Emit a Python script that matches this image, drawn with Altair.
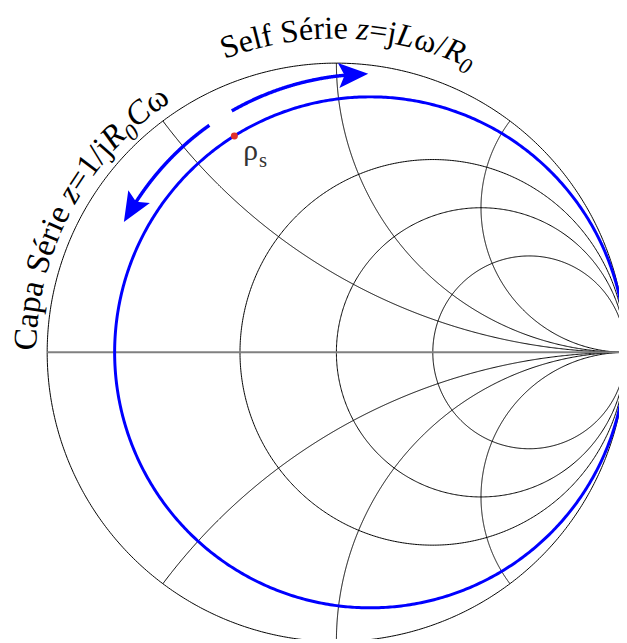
import numpy as np
import pandas as pd
import altair as alt

# ---------------- values ----------------
resistance_circles = [0.5, 1.0, 2.0]                 # constant-r circles
reactance_arcs = [0.5, 1.0, 2.0, -0.5, -1.0, -2.0]   # constant-x arcs
blue_r = 0.132                                       # highlighted constant-r circle
rho_s_angle = 122.1                                  # deg on the blue circle
arrow_radius = 0.962                                 # around the blue circle's centre
arrow_top_deg = [119.8, 91.0]                        # start, tip
arrow_left_deg = [125.3, 151.5]                      # start, tip
top_text = [("Self Série ", "n"), ("z", "i"), ("=j", "n"), ("L", "i"),
            ("ω/", "n"), ("R", "i"), ("0", "s")]
left_text = [("Capa Série ", "n"), ("z", "i"), ("=1/j", "n"), ("R", "i"),
             ("0", "s"), ("C", "i"), ("ω", "n")]
top_text_center_deg = 87.8
left_text_center_deg = 151.5
top_text_radius = 1.085
left_text_radius = 1.038
top_font = 32.5
left_font = 33.5

# ---------------- layout ----------------
W, H = 619, 635
PX = 293.0                  # pixels per unit of Gamma
CX, CY = 332.7, 344.7       # centre of the chart in plot pixels
xdom = [-CX / PX, (W - CX) / PX]
ydom = [(CY - H) / PX, CY / PX]

X = alt.X("x:Q", scale=alt.Scale(domain=xdom, nice=False, zero=False), axis=None)
Y = alt.Y("y:Q", scale=alt.Scale(domain=ydom, nice=False, zero=False), axis=None)

# ---------------- Smith chart grid ----------------
rows = []
cid = 0
for r in [0.0] + resistance_circles:
    c, rad = r / (1 + r), 1 / (1 + r)
    t = np.linspace(0, 2 * np.pi, 721)
    for k, tt in enumerate(t):
        rows.append({"id": cid, "k": k, "x": c + rad * np.cos(tt), "y": rad * np.sin(tt)})
    cid += 1
for xv in reactance_arcs:
    t = np.linspace(0, np.pi / 2, 600)[:-1]
    z = np.tan(t) + 1j * xv
    g = (z - 1) / (z + 1)
    pts = list(zip(g.real, g.imag)) + [(1.0, 0.0)]
    for k, (a, b) in enumerate(pts):
        rows.append({"id": cid, "k": k, "x": a, "y": b})
    cid += 1
grid = pd.DataFrame(rows)

axis_line = pd.DataFrame({"x": [-1.0, 1.0], "y": [0.0, 0.0], "k": [0, 1]})

# blue circle
cb, rb = blue_r / (1 + blue_r), 1 / (1 + blue_r)
tb = np.linspace(0, 2 * np.pi, 721)
blue = pd.DataFrame({"x": cb + rb * np.cos(tb), "y": rb * np.sin(tb), "k": np.arange(len(tb))})

# arrows
head_len_deg = np.degrees((24 / PX) / arrow_radius)
arrow_rows, head_rows = [], []
for aid, (a0, a1) in enumerate([arrow_top_deg, arrow_left_deg]):
    sgn = 1 if a1 > a0 else -1
    end = a1 - sgn * head_len_deg * 0.75
    ang = np.radians(np.linspace(a0, end, 200))
    for k, a in enumerate(ang):
        arrow_rows.append({"id": aid, "k": k, "x": cb + arrow_radius * np.cos(a),
                           "y": arrow_radius * np.sin(a)})
    hc = a1 - sgn * head_len_deg * 0.5
    direction = hc + sgn * 90
    head_rows.append({"x": cb + arrow_radius * np.cos(np.radians(hc)),
                      "y": arrow_radius * np.sin(np.radians(hc)),
                      "ang": (-direction) % 360})
arrows = pd.DataFrame(arrow_rows)
heads = pd.DataFrame(head_rows)

rho = pd.DataFrame({"x": [cb + rb * np.cos(np.radians(rho_s_angle))],
                    "y": [rb * np.sin(np.radians(rho_s_angle))]})

# ---------------- text along the arcs ----------------
WREG = {"S": 556, "e": 444, "l": 278, "f": 333, " ": 250, "é": 444, "r": 333, "i": 278,
        "=": 564, "j": 278, "ω": 686, "/": 278, "C": 667, "a": 444, "p": 500, "1": 500}
WIT = {"z": 389, "L": 556, "R": 611, "C": 667, "0": 500}


def arc_text(segments, center_deg, radius, fs):
    chars = []
    for s, st in segments:
        for ch in s:
            if st == "n":
                w = WREG.get(ch, 500) * fs / 1000
            elif st == "i":
                w = WIT.get(ch, 500) * fs / 1000
            else:
                w = WIT.get(ch, 500) * fs * 0.7 / 1000
            chars.append((ch, st, w))
    total = sum(c[2] for c in chars)
    rpx = radius * PX
    start = np.radians(center_deg) + (total / 2) / rpx
    out = []
    s = 0.0
    for ch, st, w in chars:
        mid = s + w / 2
        th = start - mid / rpx
        rr = rpx - (0.22 * fs if st == "s" else 0)
        if ch != " ":
            out.append({"x": rr * np.cos(th) / PX, "y": rr * np.sin(th) / PX,
                        "ch": ch, "st": st, "ang": (90 - np.degrees(th)) % 360,
                        "fs": fs * (0.7 if st == "s" else 1.0)})
        s += w
    return out


letters = pd.DataFrame(arc_text(top_text, top_text_center_deg, top_text_radius, top_font)
                       + arc_text(left_text, left_text_center_deg, left_text_radius, left_font))

# ---------------- chart ----------------
grid_layer = alt.Chart(grid).mark_line(color="black", strokeWidth=1, clip=True).encode(
    x=X, y=Y, detail="id:N", order="k:Q")
axis_layer = alt.Chart(axis_line).mark_line(color="#808080", strokeWidth=2, clip=True).encode(
    x=X, y=Y, order="k:Q")
blue_layer = alt.Chart(blue).mark_line(color="#0000ff", strokeWidth=3, clip=True).encode(
    x=X, y=Y, order="k:Q")
arrow_layer = alt.Chart(arrows).mark_line(color="#0000ff", strokeWidth=3.5, clip=True).encode(
    x=X, y=Y, detail="id:N", order="k:Q")
head_layer = alt.Chart(heads).mark_point(
    shape="M1,0 L-1,-0.85 L-0.6,0 L-1,0.85 Z", filled=True, color="#0000ff",
    opacity=1, size=900, strokeWidth=0).encode(
    x=X, y=Y, angle=alt.Angle("ang:Q", scale=None))
dot_layer = alt.Chart(rho).mark_circle(color="#e0302a", size=50, opacity=1).encode(x=X, y=Y)
rho_label = alt.Chart(rho).mark_text(text="ρ", font="Liberation Serif", fontSize=30,
                                     align="left", baseline="alphabetic", dx=9, dy=24,
                                     color="#333333").encode(x=X, y=Y)
rho_sub = alt.Chart(rho).mark_text(text="s", font="Liberation Serif", fontSize=21,
                                   align="left", baseline="alphabetic", dx=25, dy=31,
                                   color="#333333").encode(x=X, y=Y)

txt_enc = dict(x=X, y=Y, text="ch:N", angle=alt.Angle("ang:Q", scale=None),
               size=alt.Size("fs:Q", scale=None, legend=None))
t_reg = alt.Chart(letters).transform_filter("datum.st == 'n'").mark_text(
    font="Liberation Serif", align="center", baseline="alphabetic", color="black").encode(**txt_enc)
t_it = alt.Chart(letters).transform_filter("datum.st != 'n'").mark_text(
    font="Liberation Serif", fontStyle="italic", align="center", baseline="alphabetic",
    color="black").encode(**txt_enc)

chart = alt.layer(grid_layer, axis_layer, blue_layer, arrow_layer, head_layer, dot_layer,
                  rho_label, rho_sub, t_reg, t_it).properties(
    width=W, height=H, padding=0, autosize="none").configure_view(stroke=None)

chart.save("out.html", embed_options={"renderer": "svg", "actions": False})
